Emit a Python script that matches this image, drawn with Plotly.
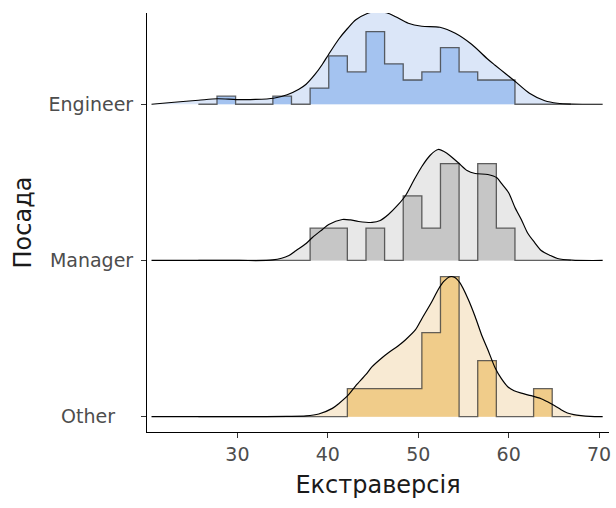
import plotly.graph_objects as go

# ---------------- data ----------------
groups = ["Other", "Manager", "Engineer"]          # bottom -> top
tick_text = ["Other\u00a0\u00a0\u00a0", "Manager", "Engineer"]

bin_start = 25.68
bin_width = 2.06
counts_engineer = [0, 1, 0, 0, 1, 0, 2, 6, 4, 9, 5, 3, 4, 7, 4, 3, 3, 0, 0, 0]
counts_manager = [0, 0, 0, 0, 0, 0, 1, 1, 0, 1, 0, 2, 1, 3, 0, 3, 1, 0, 0, 0]
counts_other = [0, 0, 0, 0, 0, 0, 0, 0, 1, 1, 1, 1, 3, 5, 0, 2, 0, 0, 1, 0]

# density curves (relative ridge height)
dens_x_engineer = [20.5, 23.0, 25.7, 27.8, 29.9, 32.0, 34.0, 35.5, 36.8, 37.6, 38.6, 39.4, 40.1,
                   41.2, 42.2, 43.1, 44.3, 45.4, 46.5, 47.5, 48.9, 50.4, 52.4, 54.1, 55.9, 57.7,
                   58.5, 59.6, 60.7, 62.3, 64.0, 65.4, 67.0, 70.4]
dens_engineer = [0, 2, 4, 5.5, 4.7, 4.8, 6, 9.5, 15, 20, 30, 40, 50,
                 65, 76, 84.5, 90.5, 93, 91.5, 87.5, 81, 78, 77, 71, 60, 45,
                 39, 31, 23, 11, 3.5, 1, 0.2, 0]

dens_x_manager = [20.5, 30.0, 33.9, 35.7, 36.5, 37.6, 38.3, 39.4, 40.1, 41.6, 42.5, 43.4, 44.9,
                  45.8, 46.7, 47.7, 48.6, 49.5, 50.4, 51.3, 52.2, 53.2, 54.4, 55.4, 56.3, 57.7,
                  58.7, 59.2, 60.0, 60.7, 61.4, 62.1, 62.9, 63.6, 64.6, 65.4, 67.0, 70.4]
dens_manager = [0, 0, 0.5, 5, 10, 17, 23, 31, 36, 41, 40.5, 39, 38,
                40, 46, 55, 65, 80, 94, 105, 111, 107, 98, 90, 87, 86,
                82.7, 77, 67.7, 53, 41, 27.5, 17.7, 10, 5, 2, 0.3, 0]

dens_x_other = [20.5, 33.0, 35.5, 37.6, 39.0, 40.5, 41.2, 42.3, 43.1, 44.2, 44.9, 46.0, 46.7,
                47.8, 48.6, 49.7, 50.4, 51.5, 52.2, 52.8, 53.5, 54.0, 54.6, 55.5, 56.3, 57.0,
                57.7, 58.5, 59.2, 59.9, 60.6, 61.4, 62.5, 63.6, 64.4, 65.1, 65.8, 66.5, 67.2,
                68.0, 69.0, 70.4]
dens_other = [0, 0, 0.3, 0.8, 2.7, 8.3, 13, 22, 31, 42, 50, 59, 64,
              71, 77, 87, 98, 115, 127, 135, 140, 139.5, 134, 118, 100, 82,
              67, 49, 38, 30, 26, 23.5, 21, 18, 14.5, 11, 7, 3.7, 2,
              1, 0.3, 0]

x_ticks = [30, 40, 50, 60, 70]

# ---------------- styling ----------------
hist_fill = {"Engineer": "#a4c3f0", "Manager": "#c6c6c6", "Other": "#f0cc8a"}
dens_fill = {"Engineer": "#dbe6f8", "Manager": "#e8e8e8", "Other": "#f8ead3"}
RIDGE_SCALE = 0.896

counts = {"Engineer": counts_engineer, "Manager": counts_manager, "Other": counts_other}
dens = {"Engineer": (dens_x_engineer, dens_engineer),
        "Manager": (dens_x_manager, dens_manager),
        "Other": (dens_x_other, dens_other)}

nbins = len(counts_engineer)
edges = [bin_start + i * bin_width for i in range(nbins + 1)]

# histogram densities normalised by global max
hist_density = {}
for g, c in counts.items():
    n = sum(c)
    hist_density[g] = [v / (n * bin_width) for v in c]
hmax = max(max(v) for v in hist_density.values())
dmax = max(max(v[1]) for v in dens.values())

fig = go.Figure()
for g in ["Engineer", "Manager", "Other"]:
    k = groups.index(g) + 1
    dx, dy = dens[g]
    # baseline for density fill
    fig.add_trace(go.Scatter(x=dx, y=[k] * len(dx), mode="lines", line=dict(width=0),
                             showlegend=False, hoverinfo="skip"))
    fig.add_trace(go.Scatter(x=dx, y=[k + RIDGE_SCALE * v / dmax for v in dy], mode="lines",
                             line=dict(width=0, shape="spline", smoothing=0.8),
                             fill="tonexty", fillcolor=dens_fill[g],
                             showlegend=False, hoverinfo="skip"))
    # histogram
    hd = hist_density[g]
    hx = [edges[0]] + edges[:nbins] + [edges[nbins]]
    hy = [k] + [k + RIDGE_SCALE * v / hmax for v in hd] + [k]
    fig.add_trace(go.Scatter(x=[edges[0], edges[-1]], y=[k, k], mode="lines",
                             line=dict(width=0), showlegend=False, hoverinfo="skip"))
    fig.add_trace(go.Scatter(x=hx, y=hy, mode="lines",
                             line=dict(color="rgba(50,50,50,0.75)", width=1.3, shape="hv"),
                             fill="tonexty", fillcolor=hist_fill[g],
                             showlegend=False, hoverinfo="skip"))
    # density outline
    fig.add_trace(go.Scatter(x=dx, y=[k + RIDGE_SCALE * v / dmax for v in dy], mode="lines",
                             line=dict(color="black", width=1.2, shape="spline", smoothing=0.8),
                             showlegend=False, hoverinfo="skip"))

font_family = "DejaVu Sans"
fig.update_layout(
    width=616, height=508,
    margin=dict(l=147, r=5, t=13, b=76),
    plot_bgcolor="white", paper_bgcolor="white",
    font=dict(family=font_family),
    showlegend=False,
)
fig.update_xaxes(
    range=[20.0, 71.1], tickvals=x_ticks, ticktext=[str(t) for t in x_ticks],
    showline=True, linecolor="black", linewidth=1,
    ticks="outside", ticklen=5, tickcolor="#333333", tickwidth=1,
    showgrid=False, zeroline=False,
    tickfont=dict(size=19, color="#4d4d4d", family=font_family),
    title=dict(text="Екстраверсія", font=dict(size=24, color="#1a1a1a", family=font_family),
               standoff=12),
)
fig.update_yaxes(
    range=[0.902, 3.584], tickvals=[1, 2, 3], ticktext=tick_text,
    showline=True, linecolor="black", linewidth=1,
    ticks="outside", ticklen=5, tickcolor="#333333", tickwidth=1,
    showgrid=False, zeroline=False,
    tickfont=dict(size=19, color="#4d4d4d", family=font_family),
    ticklabelstandoff=4,
    title=dict(text="Посада", font=dict(size=24, color="#1a1a1a", family=font_family),
               standoff=10),
)

fig.write_html("out.html")
